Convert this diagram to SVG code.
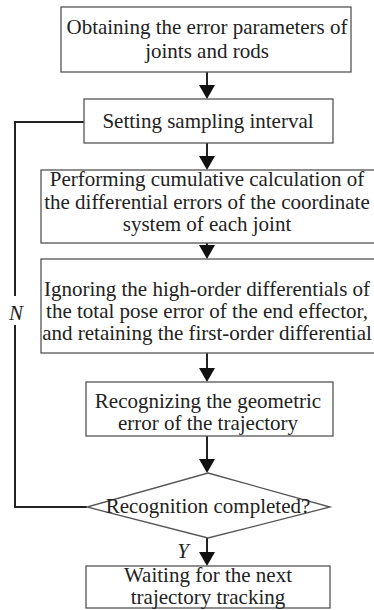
<svg xmlns="http://www.w3.org/2000/svg" width="374" height="610" viewBox="0 0 374 610">
<style>
.box{fill:#fff;stroke:#555;stroke-width:1.3}
.t{font-family:"Liberation Serif","Times New Roman",serif;font-size:21px;fill:#222;text-anchor:middle}
.lbl{font-family:"Liberation Serif","Times New Roman",serif;font-size:21px;font-style:italic;fill:#222;text-anchor:middle}
.c{fill:none;stroke:#222;stroke-width:2}
.ah{fill:#111}
</style>
<rect width="374" height="610" fill="#fff"/>
<g id="connectors">
<line class="c" x1="207" y1="72" x2="207" y2="85"/><path class="ah" d="M199,85 L215,85 L207,99 Z"/>
<line class="c" x1="207" y1="143" x2="207" y2="156"/><path class="ah" d="M199,156 L215,156 L207,170 Z"/>
<line class="c" x1="207" y1="243" x2="207" y2="245"/><path class="ah" d="M199,245 L215,245 L207,259 Z"/>
<line class="c" x1="207" y1="353" x2="207" y2="368"/><path class="ah" d="M199,368 L215,368 L207,382 Z"/>
<line class="c" x1="207" y1="436" x2="207" y2="459"/><path class="ah" d="M199,459 L215,459 L207,473 Z"/>
<line class="c" x1="207" y1="538" x2="207" y2="552"/><path class="ah" d="M199,552 L215,552 L207,566 Z"/>
<polyline class="c" points="84,122 15,122 15,296"/>
<polyline class="c" points="15,325 15,507 87,507"/>
<text class="lbl" x="16" y="320">N</text>
<text class="lbl" x="183" y="558">Y</text>
</g>
<g id="n1">
<rect class="box" x="61" y="7" width="290" height="65"/>
<text class="t" x="207" y="34">Obtaining the error parameters of</text>
<text class="t" x="207" y="58">joints and rods</text>
</g>
<g id="n2">
<rect class="box" x="84" y="99" width="249" height="44"/>
<text class="t" x="208" y="128">Setting sampling interval</text>
</g>
<g id="n3">
<rect class="box" x="41" y="170" width="340" height="73"/>
<text class="t" x="207" y="186">Performing cumulative calculation of</text>
<text class="t" x="207" y="209">the differential errors of the coordinate</text>
<text class="t" x="207" y="231">system of each joint</text>
</g>
<g id="n4">
<rect class="box" x="41" y="259" width="340" height="94"/>
<text class="t" x="207" y="296">Ignoring the high-order differentials of</text>
<text class="t" x="207" y="318">the total pose error of the end effector,</text>
<text class="t" x="207" y="340">and retaining the first-order differential</text>
</g>
<g id="n5">
<rect class="box" x="86" y="382" width="247" height="54"/>
<text class="t" x="208" y="408">Recognizing the geometric</text>
<text class="t" x="208" y="430">error of the trajectory</text>
</g>
<g id="n6">
<path class="box" d="M208,473 L330,507 L208,538 L87,507 Z"/>
<text class="t" x="208" y="513">Recognition completed?</text>
</g>
<g id="n7">
<rect class="box" x="86" y="566" width="244" height="42"/>
<text class="t" x="208" y="582">Waiting for the next</text>
<text class="t" x="208" y="604">trajectory tracking</text>
</g>
</svg>
